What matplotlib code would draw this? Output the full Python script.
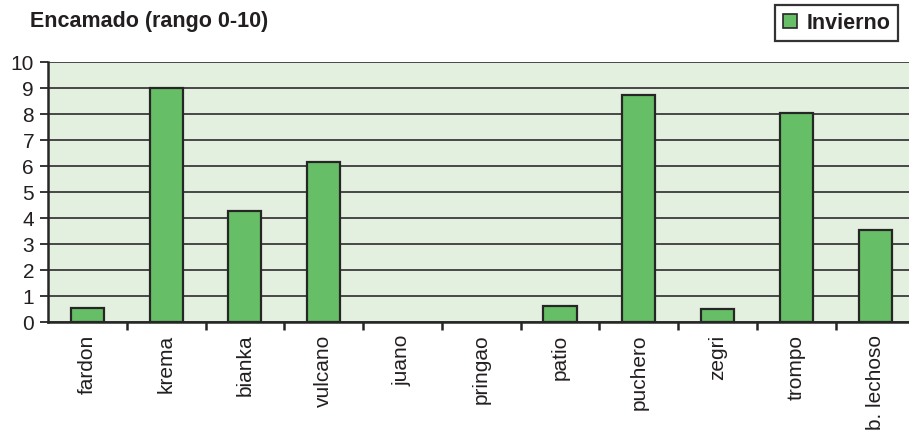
"""Encamado (rango 0-10) bar chart, Invierno series."""
import matplotlib

matplotlib.use("Agg")
import matplotlib.pyplot as plt
from matplotlib.patches import Patch
import numpy as np

plt.rcParams["font.family"] = ["Liberation Sans", "DejaVu Sans"]

varieties = ["fardon", "krema", "bianka", "vulcano", "juano", "pringao",
             "patio", "puchero", "zegri", "trompo", "b. lechoso"]
invierno = [0.55, 9.0, 4.27, 6.15, 0.0, 0.0, 0.6, 8.75, 0.5, 8.03, 3.54]
y_ticks = list(range(0, 11))

TXT = "#231f20"
BAR = "#66bf66"
EDGE = "#262626"
BG = "#e3f0df"

fig = plt.figure(figsize=(9.09, 4.33), dpi=100)
# plot area: left 48 px, bottom 322 px, top 62 px (axis runs past right edge)
ax = fig.add_axes([48 / 909, 111 / 433, 1 - 48 / 909, 260 / 433])
ax.set_facecolor(BG)

x = np.arange(len(varieties))
# empty bars (value 0) show no outline in the original
lws = [1.6 if v > 0 else 0 for v in invierno]
ax.bar(x, invierno, width=0.42, color=BAR, edgecolor=EDGE, linewidth=lws,
       zorder=3)

ax.set_ylim(0, 10)
ax.set_xlim(-0.5, 10.43)
ax.set_yticks(y_ticks)
ax.set_yticklabels([str(v) for v in y_ticks], fontsize=15, color=TXT)
ax.yaxis.grid(True, color="#3a3a3a", linewidth=1.3, zorder=1)
ax.set_axisbelow(True)

ax.set_xticks(x)
ax.set_xticklabels(varieties, rotation=90, fontsize=15, color=TXT)
ax.set_xticks(x[:-1] + 0.5, minor=True)
ax.tick_params(axis="x", which="major", length=0, pad=9)
ax.tick_params(axis="x", which="minor", length=6, width=1.8, color=EDGE,
               direction="out")
ax.tick_params(axis="y", length=6, width=1.3, color=EDGE, pad=4)

for side in ("top", "right"):
    ax.spines[side].set_visible(False)
for side in ("left", "bottom"):
    ax.spines[side].set_color(EDGE)
    ax.spines[side].set_linewidth(1.8)
    ax.spines[side].set_zorder(4)

fig.text(30 / 909, 1 - 22 / 433, "Encamado (rango 0-10)", fontsize=15.5,
         fontweight="bold", color=TXT, ha="left", va="center")

leg = fig.legend(handles=[Patch(facecolor=BAR, edgecolor=EDGE, linewidth=1.2,
                                label="Invierno")],
                 loc="upper right", bbox_to_anchor=(898 / 909, 1 - 5 / 433),
                 fontsize=15.5, frameon=True, fancybox=False,
                 edgecolor="#333333", framealpha=1, handlelength=0.65,
                 handleheight=0.65, handletextpad=0.45, borderpad=0.35,
                 borderaxespad=0)
leg.get_frame().set_linewidth(1.6)
for t in leg.get_texts():
    t.set_fontweight("bold")
    t.set_color(TXT)

fig.savefig("out.png", dpi=100)
